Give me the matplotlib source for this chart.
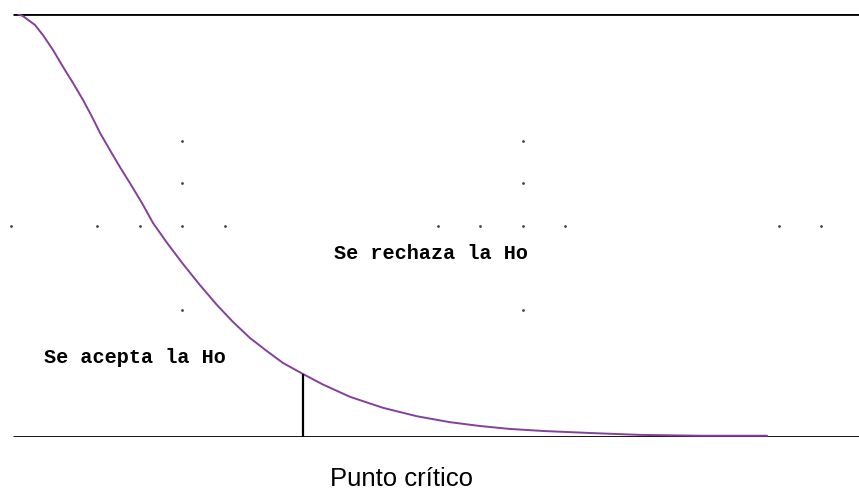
import matplotlib
matplotlib.use("Agg")
import matplotlib.pyplot as plt

# curve (x in arbitrary units, y as fraction of peak)
curve_x = [0.0, 0.05, 0.17, 0.25, 0.35, 0.45, 0.55, 0.65, 0.74, 0.82, 0.92,
           1.02, 1.12, 1.24, 1.35, 1.49, 1.65, 1.82, 1.99, 2.15, 2.32, 2.49,
           2.65, 2.85, 3.05, 3.32, 3.65, 3.99, 4.32, 4.62, 4.92, 5.27, 5.77,
           6.22, 6.82, 7.49]
curve_y = [1.0, 0.995, 0.974, 0.950, 0.915, 0.875, 0.837, 0.797, 0.757, 0.719,
           0.678, 0.638, 0.600, 0.553, 0.506, 0.459, 0.409, 0.359, 0.312,
           0.272, 0.234, 0.203, 0.175, 0.149, 0.124, 0.095, 0.069, 0.049,
           0.035, 0.026, 0.019, 0.014, 0.009, 0.005, 0.003, 0.003]

critical_x = 2.85
critical_y = 0.149

# scattered dots
dot_row_x = [-0.07, 0.79, 1.22, 1.64, 2.07, 4.20, 4.62, 5.05, 5.47, 7.61, 8.03]
dot_row_y = 0.50
dot_col_x = [1.64, 5.05]
dot_col_y = [0.70, 0.60, 0.30]

label_reject = "Se rechaza la Ho"
label_accept = "Se acepta la Ho"
label_crit = "Punto crítico"

fig = plt.figure(figsize=(8.59, 4.91), dpi=100)
ax = fig.add_axes([0, 54 / 491, 1, 423 / 491])
ax.set_xlim(-0.18, 8.41)
ax.set_ylim(0, 1)
ax.axis("off")

ax.hlines([0, 1], -0.05, 8.41, colors="black", lw=2)
ax.plot(curve_x, curve_y, color="#84409a", lw=1.4,
        solid_joinstyle="round", solid_capstyle="round")
ax.vlines(critical_x, 0, critical_y, colors="black", lw=1.6)

ax.scatter(dot_row_x, [dot_row_y] * len(dot_row_x), s=4, color="#444444", lw=0)
for cx in dot_col_x:
    ax.scatter([cx] * len(dot_col_y), dot_col_y, s=4, color="#444444", lw=0)

ax.text(4.13, 0.433, label_reject, family="Liberation Mono", weight="bold",
        fontsize=14.5, ha="center", va="center")
ax.text(1.165, 0.189, label_accept, family="Liberation Mono", weight="bold",
        fontsize=14.5, ha="center", va="center")
ax.text(3.84, -0.116, label_crit, family="Liberation Sans",
        fontsize=18.5, ha="center", va="baseline")

fig.savefig("out.png", dpi=100)
